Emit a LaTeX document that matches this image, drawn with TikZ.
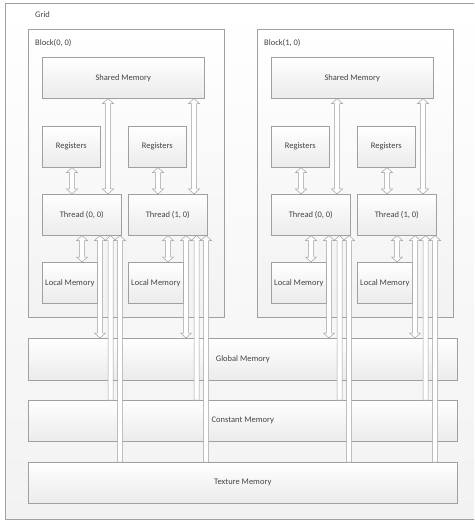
\documentclass[tikz,border=0pt]{standalone}
\usepackage{fontspec}
\setmainfont{Carlito}
\usepackage{tikz}
\usetikzlibrary{calc}
\definecolor{boxline}{HTML}{A0A0A0}
\definecolor{txt}{HTML}{454545}
\definecolor{shade}{HTML}{EBEBEB}
\definecolor{paleshade}{HTML}{F2F2F2}
\newcommand{\smallpt}{\fontsize{8.5}{10}\selectfont}
% hollow block arrows: #1 gives x, #2 top edge, #3 bottom edge
\newcommand{\dblarrow}[3]{%
  \draw[fatarrow] let \p1=(#1), \p2=(#2), \p3=(#3) in
    (\x1,\y2) -- (\x1+5.5pt,\y2-5pt) -- (\x1+2.5pt,\y2-5pt) -- (\x1+2.5pt,\y3+5pt)
    -- (\x1+5.5pt,\y3+5pt) -- (\x1,\y3) -- (\x1-5.5pt,\y3+5pt) -- (\x1-2.5pt,\y3+5pt)
    -- (\x1-2.5pt,\y2-5pt) -- (\x1-5.5pt,\y2-5pt) -- cycle;}
\newcommand{\readarrow}[3]{%
  \draw[fatarrow] let \p1=(#1), \p2=(#2), \p3=(#3) in
    (\x1,\y2) -- (\x1+5.5pt,\y2-5pt) -- (\x1+2.5pt,\y2-5pt) -- (\x1+2.5pt,\y3)
    -- (\x1-2.5pt,\y3) -- (\x1-2.5pt,\y2-5pt) -- (\x1-5.5pt,\y2-5pt) -- cycle;}

\begin{document}
\begin{tikzpicture}[x=1pt,y=-1pt,font=\smallpt,
  membox/.style={draw=boxline,line width=0.6pt,top color=white,bottom color=shade,
    text=txt,inner sep=0pt,anchor=north west},
  fatarrow/.style={draw=boxline,fill=white,line width=0.5pt},
  boxtag/.style={text=txt,anchor=west,inner sep=0pt}]
  \clip (0,0) rectangle (474,521);
  %% grid frame
  \node[membox,bottom color=paleshade,minimum width=485pt,minimum height=516pt] (grid) at (5,3) {};
  \node[boxtag] (gridname) at (35,15) {Grid};
  %% blocks
  \foreach \b/\bx in {0/28, 1/257}{
    \node[membox,bottom color=paleshade,minimum width=196pt,minimum height=288pt] (blk\b) at (\bx,29) {};
    \node[boxtag] (blkname\b) at (\bx+7,43) {Block(\b, 0)};
    \node[membox,minimum width=162pt,minimum height=41pt] (sh\b) at (\bx+14,57) {Shared Memory};
    \foreach \t/\tx in {0/14, 1/100}{
      \node[membox,minimum width=58pt,minimum height=41pt] (rg\b\t) at (\bx+\tx,126) {Registers};
      \node[membox,minimum width=79pt,minimum height=41pt] (th\b\t) at (\bx+\tx,194) {Thread (\t, 0)};
      \node[membox,minimum width=55pt,minimum height=41pt] (lm\b\t) at (\bx+\tx,262) {Local Memory};
    }
  }
  %% device-wide memories
  \node[membox,minimum width=429pt,minimum height=42pt] (glob) at (28,338) {Global Memory};
  \node[membox,minimum width=429pt,minimum height=41pt] (cons) at (28,400) {Constant Memory};
  \node[membox,minimum width=429pt,minimum height=41pt] (tex) at (28,462) {Texture Memory};
  %% arrows
  \foreach \b in {0,1}{
    \foreach \t in {0,1}{
      \dblarrow{[xshift=66pt]th\b\t.north west}{sh\b.south}{th\b\t.north}
      \dblarrow{[xshift=30pt]th\b\t.north west}{rg\b\t.south}{th\b\t.north}
      \dblarrow{[xshift=40pt]th\b\t.south west}{th\b\t.south}{lm\b\t.north}
      \dblarrow{[xshift=58pt]th\b\t.south west}{th\b\t.south}{glob.north}
      \readarrow{[xshift=68.5pt]th\b\t.south west}{th\b\t.south}{cons.north}
      \readarrow{[xshift=78pt]th\b\t.south west}{th\b\t.south}{tex.north}
    }
  }
\end{tikzpicture}
\end{document}
